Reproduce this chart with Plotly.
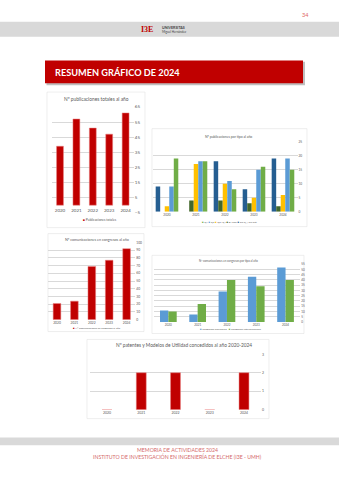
import plotly.graph_objects as go

W, H = 339, 480
def px(x): return x / W
def py(y): return 1 - y / H

# ---------------- data ----------------
years = ["2020", "2021", "2022", "2023", "2024"]
pub_totales = [39, 57, 51, 47, 61]

tipo_names = ["Sin Q / Sin Cat.", "B+CRS", "Q3+Q4", "Q2", "Q1"]
tipo_colors = ["#255E91", "#43682B", "#FFC000", "#5B9BD5", "#70AD47"]
tipo_values = [
    [9, 0, 18, 8, 19],    # dark blue
    [0, 4, 4, 3, 2],      # dark green
    [2, 17, 10, 5, 6],    # yellow
    [9, 18, 11, 15, 19],  # light blue
    [19, 18, 8, 16, 15],  # green
]

congresos_total = [21, 24, 69, 77, 92]
congresos_nac = [11, 7, 29, 43, 52]
congresos_int = [10, 17, 40, 34, 40]

patentes = [0, 2, 2, 0, 2]

RED = "#C00000"
GRID = "#D9D9D9"
TXT = "#595959"
FONT = "Lato"

fig = go.Figure()

# chart 1
fig.add_trace(go.Bar(x=years, y=pub_totales, marker=dict(color=RED, line=dict(color="#E88080", width=0.5)),
                     width=0.42, offset=-0.21, xaxis="x", yaxis="y", showlegend=False))
# chart 2
for i, (nm, col, vals) in enumerate(zip(tipo_names, tipo_colors, tipo_values)):
    fig.add_trace(go.Bar(x=years, y=vals, name=nm, marker=dict(color=col, line=dict(width=0)),
                         width=0.155, offset=-0.39 + i * 0.156, xaxis="x2", yaxis="y2", showlegend=False))
# chart 3
fig.add_trace(go.Bar(x=years, y=congresos_total, marker=dict(color=RED, line=dict(color="#E88080", width=0.5)),
                     width=0.44, offset=-0.22, xaxis="x3", yaxis="y3", showlegend=False))
# chart 4
fig.add_trace(go.Bar(x=years, y=congresos_nac, marker=dict(color="#5B9BD5", line=dict(width=0)),
                     width=0.285, offset=-0.285, xaxis="x4", yaxis="y4", showlegend=False))
fig.add_trace(go.Bar(x=years, y=congresos_int, marker=dict(color="#70AD47", line=dict(width=0)),
                     width=0.285, offset=0.0, xaxis="x4", yaxis="y4", showlegend=False))
# chart 5
fig.add_trace(go.Bar(x=years, y=patentes, marker=dict(color=RED, line=dict(color="#E88080", width=0.5)),
                     width=0.29, offset=-0.145, xaxis="x5", yaxis="y5", showlegend=False))

def xax(dom, fs, anchor, pos=None):
    d = dict(domain=[px(dom[0]), px(dom[1])], type="category", showgrid=False, zeroline=False,
             showline=False, ticks="", tickfont=dict(size=fs, color=TXT, family=FONT), fixedrange=True)
    if pos is None:
        d["anchor"] = anchor
    else:
        d["anchor"] = "free"
        d["position"] = pos
    return d

def yax(dom, rng, dtick, fs, anchor, tick0=0):
    return dict(domain=[py(dom[0]), py(dom[1])], range=rng, dtick=dtick, tick0=tick0, side="right",
                anchor=anchor, showgrid=True, gridcolor=GRID, gridwidth=0.6, zeroline=False,
                showline=False, ticks="", tickfont=dict(size=fs, color=TXT, family=FONT), fixedrange=True)

layout = dict(
    width=W, height=H, margin=dict(l=0, r=0, t=0, b=0),
    paper_bgcolor="white", plot_bgcolor="rgba(0,0,0,0)",
    barmode="group", showlegend=False,
    font=dict(family=FONT, color=TXT),
    xaxis=xax((51.8, 133.8), 4.5, "y", pos=py(206.5)),
    yaxis=yax((213, 106), [-5, 65], 10, 4.5, "x", tick0=-5),
    xaxis2=xax((152.5, 297.5), 3.2, "y2"),
    yaxis2=yax((212, 141), [0, 25], 5, 3.2, "x2"),
    xaxis3=xax((48.3, 135.3), 3.3, "y3"),
    yaxis3=yax((321, 243), [0, 100], 10, 3.3, "x3"),
    xaxis4=xax((153.7, 300.2), 3.0, "y4"),
    yaxis4=yax((323.3, 265), [0, 55], 5, 3.0, "x4"),
    xaxis5=xax((89.9, 261.1), 3.5, "y5"),
    yaxis5=yax((412, 356), [0, 3], 1, 3.5, "x5"),
)
fig.update_layout(**layout)

shapes = []
def rect(x0, y0, x1, y1, fill=None, line=None, lw=0, layer="below"):
    shapes.append(dict(type="rect", xref="paper", yref="paper", x0=px(x0), x1=px(x1), y0=py(y1), y1=py(y0),
                       fillcolor=fill if fill else "rgba(0,0,0,0)",
                       line=dict(color=line if line else "rgba(0,0,0,0)", width=lw), layer=layer))

# header / footer grey bands
rect(0, 20, W, 35, fill="#D9D9D9")
rect(0, 440, W, 448, fill="#D9D9D9")
# red title bar with shadow
rect(46.5, 60.5, 305, 84, fill="#BFBFBF")
rect(45, 59, 303, 82, fill=RED)
# chart boxes
rect(47, 91, 145, 228, line="#E3E3E3", lw=0.6)
rect(152, 128, 307, 227, line="#E3E3E3", lw=0.6)
rect(48, 234, 144, 333, line="#E3E3E3", lw=0.6)
rect(152, 256, 304, 335, line="#E3E3E3", lw=0.6)
rect(87, 341, 269, 421, line="#E3E3E3", lw=0.6)

annotations = []
def txt(x, y, s, size, color=TXT, xanchor="center", family=FONT, bold=False):
    if bold:
        s = "<b>" + s + "</b>"
    annotations.append(dict(x=px(x), y=py(y), xref="paper", yref="paper", text=s, showarrow=False,
                            xanchor=xanchor, yanchor="middle", font=dict(size=size, color=color, family=family)))

txt(305, 13, "34", 5.5, color="#E06666")
txt(155, 27.5, "I3E", 8, color=RED, xanchor="right", bold=True, family="Liberation Serif")
txt(160, 26, "UNIVERSITAS", 3.6, color="#404040", xanchor="left", bold=True)
txt(160, 30, "Miguel Hernández", 3.0, color="#404040", xanchor="left")
txt(53, 71, "RESUMEN GRÁFICO DE 2024", 9.2, color="white", xanchor="left", bold=True, family="Lato")

txt(96.5, 98, "Nº publicaciones totales al año", 4.8)
txt(100, 220, "<span style='color:%s'>■</span> Publicaciones totales" % RED, 3.3)

txt(228, 136, "Nº publicaciones por tipo al año", 3.4)
leg2 = " ".join("<span style='color:%s'>■</span> %s" % (c, n)
                for n, c in zip(tipo_names[::-1], tipo_colors[::-1]))
txt(229, 222, leg2, 2.6)

txt(97, 240, "Nº comunicaciones en congresos al año", 3.7)
txt(97, 329, "<span style='color:%s'>■</span> Nº comunicaciones en congresos al año" % RED, 2.6)

txt(228, 262, "Nº comunicaciones en congresos por tipo al año", 2.8)
txt(231, 330, "<span style='color:#5B9BD5'>■</span> Congresos nacionales   "
              "<span style='color:#70AD47'>■</span> Congresos internacionales", 2.6)

txt(184.5, 347, "Nº patentes y Modelos de Utilidad concedidos al año 2020-2024", 4.8)

txt(177, 453, "MEMORIA DE ACTIVIDADES 2024", 5.2, color="#D46A6A")
txt(177, 459, "INSTITUTO DE INVESTIGACIÓN EN INGENIERÍA DE ELCHE (I3E - UMH)", 5.2, color="#D46A6A")

fig.update_layout(shapes=shapes, annotations=annotations)
fig.write_html("out.html")
